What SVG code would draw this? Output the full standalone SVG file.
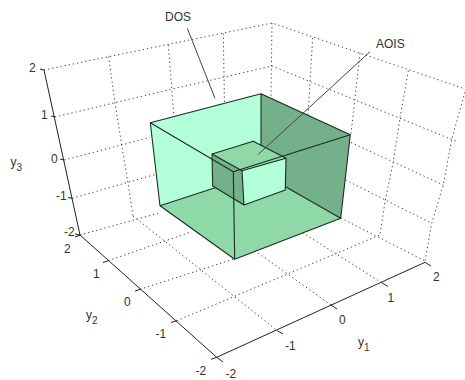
<svg xmlns="http://www.w3.org/2000/svg" width="465" height="380" viewBox="0 0 465 380">
<style>
text{font-family:"Liberation Sans",Arial,sans-serif;font-size:12px;fill:#333}
tspan.s{font-size:10px}
.grid{fill:none;stroke:#444;stroke-width:1;stroke-dasharray:1.3 2.9}
.axis{fill:none;stroke:#222;stroke-width:1}
.edge{fill:none;stroke:#1c2b22;stroke-width:1.1;stroke-linejoin:round}
.lead{fill:none;stroke:#444;stroke-width:1}
.light{fill:#b3ffd9}.mid{fill:#8fd9a8}.dark{fill:#74b08a}
</style>
<rect width="465" height="380" fill="#fff"/>
<g id="grid">
<path class="grid" d="M44 70L272 23L465 89M55 117L168 90L272 66L458 142M64.3 160L150 137.5M72.3 198.3L155.7 174.3M80 235L159 213M351 142.5L443.3 185M345.5 180L431.7 223.3M340.7 218L425 261"/>
<path class="grid" d="M108.7 56.5L115 103L121.7 145L128 183L133 216M168.3 45L174 117M223.3 33.5L224.5 106M272 23L271 98M312.7 38L308 115M360 53L351 134M408.3 70.7L400 117.7L393.3 161.7L385 201.7L380 235M465 92L451.7 139.3L443.3 185L431.7 223.3L425 261"/>
<path class="grid" d="M133 216L277.3 330.7M331 305L254 250M381.7 282.7L303 233M108.3 260.7L191.7 231.7M140 289.3L234 259M176.7 320.7L380 235"/>
</g>
<g id="axes">
<path class="axis" d="M44 70L80 235L216.7 357.3L425 262.3"/>
<path class="axis" d="M44 70L40 69M55 116.7L51 116M64.3 160L60 159M72.3 198.3L68 197.5M80 235L75 234M80 235L75 237M108.3 260.7L103 262.5M140 289.3L135 291M176.7 320.7L171 322.5M216.7 357.3L211 359.3M216.7 357.3L223 362M277.3 330.7L283 334M331 305L337 309M381.7 282.7L388 286.5M425 262.3L431 266"/>
</g>
<g id="outer-box-back">
<polygon class="light" points="150.3,122.7 261,93.7 261,172.7 160,205.7"/>
<polygon class="dark" points="261,93.7 350.3,134.7 340.7,218.3 261,172.7"/>
<polygon class="mid" points="160,205.7 261,172.7 340.7,218.3 234.7,259.3"/>
<path class="edge" d="M150.3 122.7L261 93.7L350.3 134.7L340.7 218.3L234.7 259.3L160 205.7ZM261 93.7V172.7M160 205.7L261 172.7L340.7 218.3"/>
</g>
<g id="inner-box">
<polygon class="mid" points="212,154 253.3,141.3 286,158.3 242,170.7"/>
<polygon class="dark" points="212,154 242,170.7 244,205 212.7,186"/>
<polygon class="light" points="242,170.7 286,158.3 285.3,190 244,205"/>
<path class="edge" d="M212 154L253.3 141.3L286 158.3L242 170.7ZM212 154L212.7 186L244 205L285.3 190L286 158.3M242 170.7L244 205"/>
</g>
<g id="outer-box-front">
<path class="edge" d="M150.3 122.7L233.3 171.7L350.3 134.7M233.3 171.7L234.7 259.3"/>
</g>
<g id="connectors">
<path class="lead" d="M187.3 28.3L215 98.3M370 51.7L258.3 154.3"/>
</g>
<g id="labels">
<text x="165" y="21">DOS</text>
<text x="376" y="48">AOIS</text>
<text x="29" y="72">2</text>
<text x="41" y="119">1</text>
<text x="51" y="162.5">0</text>
<text x="56" y="200">-1</text>
<text x="64" y="236">-2</text>
<text x="64" y="252.5">2</text>
<text x="93" y="278">1</text>
<text x="124" y="305.5">0</text>
<text x="155.5" y="338">-1</text>
<text x="195.5" y="375">-2</text>
<text x="225.5" y="378">-2</text>
<text x="285" y="350">-1</text>
<text x="339" y="324">0</text>
<text x="387.5" y="301.5">1</text>
<text x="433" y="280.5">2</text>
<text x="10.5" y="166">y<tspan class="s" dy="5">3</tspan></text>
<text x="86" y="319">y<tspan class="s" dy="5">2</tspan></text>
<text x="358" y="346">y<tspan class="s" dy="5">1</tspan></text>
</g>
</svg>
